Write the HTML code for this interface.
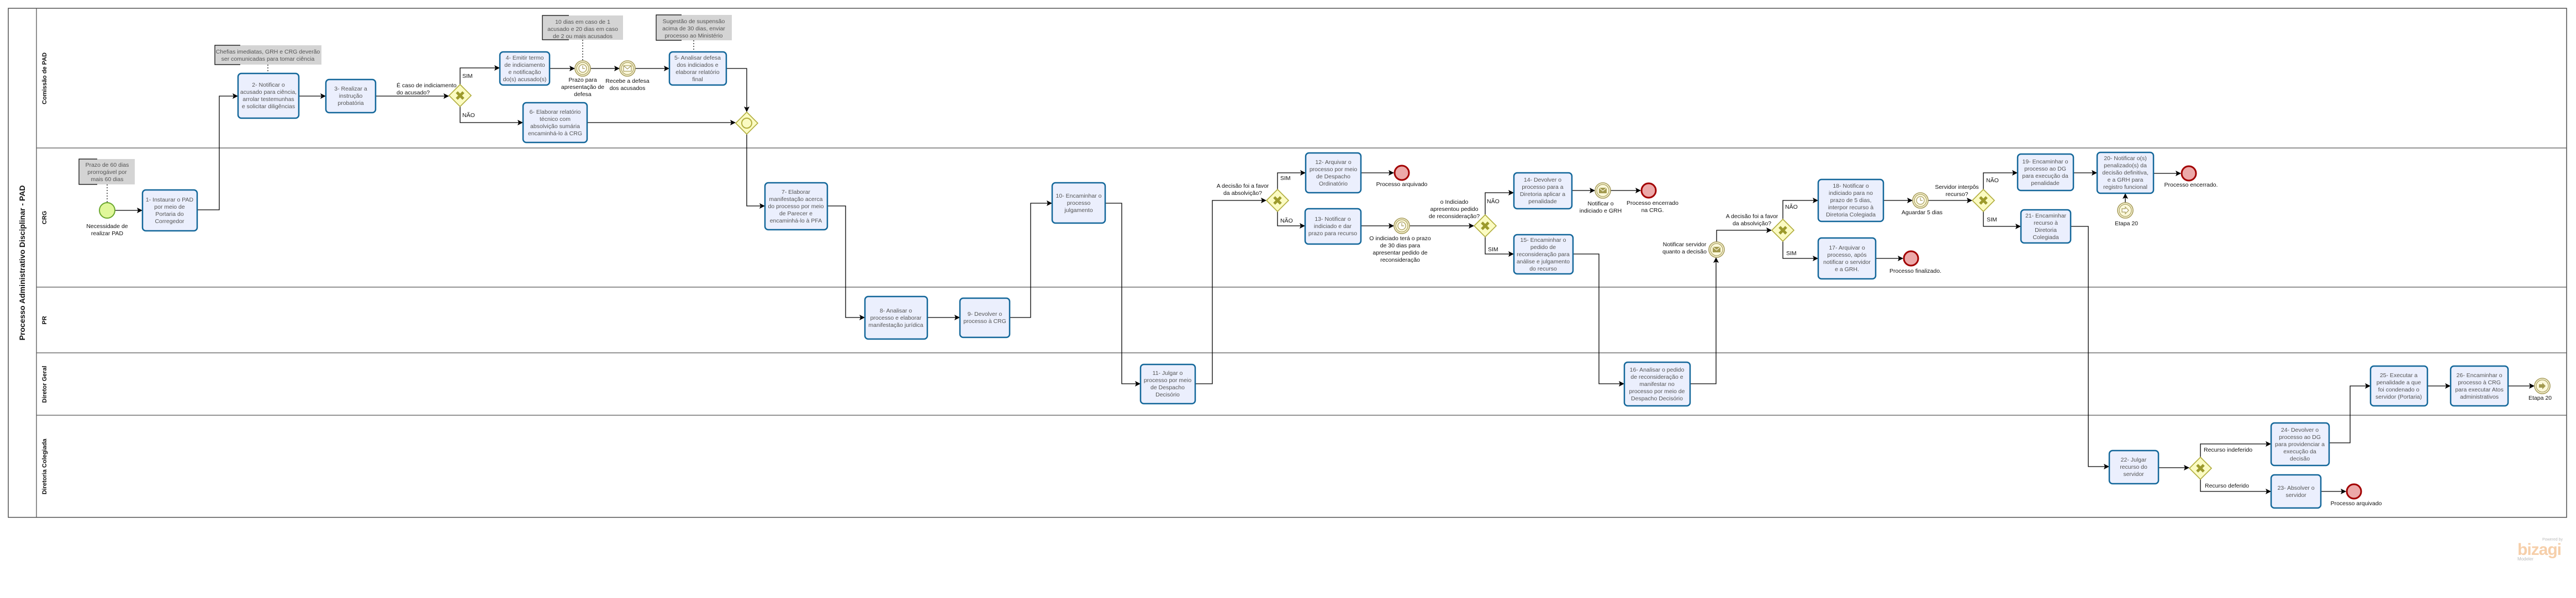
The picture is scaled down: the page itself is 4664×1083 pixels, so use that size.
<!DOCTYPE html>
<html><head><meta charset="utf-8"><style>
html,body{margin:0;padding:0;background:#fff;}
svg{display:block;}
.t{font-family:"Liberation Sans",sans-serif;font-size:10.5px;fill:#555;text-anchor:middle;}
.l{font-family:"Liberation Sans",sans-serif;font-size:10.5px;fill:#111;text-anchor:middle;}
.ll{font-family:"Liberation Sans",sans-serif;font-size:10.5px;fill:#111;}
.a{font-family:"Liberation Sans",sans-serif;font-size:10.5px;fill:#555;text-anchor:middle;}
.task{fill:#ebeffd;stroke:#13679a;stroke-width:2.5;}
.gw{fill:#fbfbc2;stroke:#b2ae3e;stroke-width:1.6;}
.gx{stroke:#9c9a2c;stroke-width:5;fill:none;stroke-linecap:butt;}
.ev{fill:#fbf8da;stroke:#a79c5c;stroke-width:1.6;}
.end{fill:#eca9a9;stroke:#a20000;stroke-width:3;}
.c{fill:none;stroke:#000;stroke-width:1.3;marker-end:url(#ar);}
.ann{fill:#d4d4d4;}
.dot{stroke:#000;stroke-width:1.2;stroke-dasharray:2,3;fill:none;}
.lane{stroke:#555;stroke-width:1.3;fill:none;}
.lab{font-family:"Liberation Sans",sans-serif;font-weight:bold;font-size:11px;fill:#111;text-anchor:middle;}
</style></head><body>
<svg width="4664" height="1083" viewBox="0 0 4664 1083" xmlns="http://www.w3.org/2000/svg">
<defs>
<marker id="ar" markerWidth="10" markerHeight="10" refX="9" refY="5" orient="auto" markerUnits="userSpaceOnUse">
<path d="M0,0 L10,5 L0,10 L2,5 z" fill="#000"/>
</marker>
</defs>
<rect width="4664" height="1083" fill="#fff"/>
<!-- pool -->
<rect x="15" y="15" width="4632" height="922" fill="none" stroke="#444" stroke-width="1.4"/>
<line x1="66" y1="15" x2="66" y2="937" class="lane"/>
<line x1="66" y1="268" x2="4647" y2="268" class="lane"/>
<line x1="66" y1="520" x2="4647" y2="520" class="lane"/>
<line x1="66" y1="639" x2="4647" y2="639" class="lane"/>
<line x1="66" y1="752" x2="4647" y2="752" class="lane"/>
<text transform="translate(45,476) rotate(-90)" class="lab" style="font-size:14px">Processo Administrativo Disciplinar - PAD</text>
<text transform="translate(84,142) rotate(-90)" class="lab">Comissão de PAD</text>
<text transform="translate(84,394) rotate(-90)" class="lab">CRG</text>
<text transform="translate(84,580) rotate(-90)" class="lab">PR</text>
<text transform="translate(84,696) rotate(-90)" class="lab">Diretor Geral</text>
<text transform="translate(84,845) rotate(-90)" class="lab">Diretoria Colegiada</text>

<!-- annotations -->
<rect class="ann" x="389" y="82" width="193" height="35"/><path d="M435,82 H389 V117 H435" fill="none" stroke="#000" stroke-width="1.2"/>
<text class="a" x="485" y="97">Chefias imediatas, GRH e CRG deverão<tspan x="485" dy="13">ser comunicadas para tomar ciência</tspan></text>
<line class="dot" x1="485" y1="117" x2="485" y2="133"/>
<rect class="ann" x="143" y="288" width="101" height="46"/><path d="M176,288 H143 V334 H176" fill="none" stroke="#000" stroke-width="1.2"/>
<text class="a" x="194" y="302">Prazo de 60 dias<tspan x="194" dy="13">prorrogável por</tspan><tspan x="194" dy="13">mais 60 dias</tspan></text>
<line class="dot" x1="194" y1="334" x2="194" y2="366"/>
<rect class="ann" x="982" y="28" width="146" height="44"/><path d="M1030,28 H982 V72 H1030" fill="none" stroke="#000" stroke-width="1.2"/>
<text class="a" x="1055" y="43">10 dias em caso de 1<tspan x="1055" dy="13">acusado e 20 dias em caso</tspan><tspan x="1055" dy="13">de 2 ou mais acusados</tspan></text>
<line class="dot" x1="1055" y1="72" x2="1055" y2="110"/>
<rect class="ann" x="1188" y="27" width="137" height="46"/><path d="M1234,27 H1188 V73 H1234" fill="none" stroke="#000" stroke-width="1.2"/>
<text class="a" x="1256" y="42">Sugestão de suspensão<tspan x="1256" dy="13">acima de 30 dias, enviar</tspan><tspan x="1256" dy="13">processo ao Ministério</tspan></text>
<line class="dot" x1="1256" y1="73" x2="1256" y2="94"/>

<!-- connectors -->
<path class="c" d="M208,381 H257"/>
<path class="c" d="M357,380 H397 V174 H430"/>
<path class="c" d="M541,174 H589"/>
<path class="c" d="M680,174 H812"/>
<path class="c" d="M833,153 V123 H904"/>
<path class="c" d="M995,124 H1040"/>
<path class="c" d="M1069,124 H1121"/>
<path class="c" d="M1150,124 H1211"/>
<path class="c" d="M1315,124 H1352 V202"/>
<path class="c" d="M833,193 V222 H946"/>
<path class="c" d="M1063,222 H1331"/>
<path class="c" d="M1352,243 V373 H1384"/>
<path class="c" d="M1498,373 H1531 V575 H1565"/>
<path class="c" d="M1679,575 H1737"/>
<path class="c" d="M1828,575 H1866 V368 H1904"/>
<path class="c" d="M2001,368 H2031 V695 H2064"/>
<path class="c" d="M2164,695 H2195 V363 H2292"/>
<path class="c" d="M2313,343 V313 H2363"/>
<path class="c" d="M2464,313 H2523"/>
<path class="c" d="M2313,383 V409 H2362"/>
<path class="c" d="M2464,409 H2523"/>
<path class="c" d="M2552,409 H2668"/>
<path class="c" d="M2689,389 V349 H2740"/>
<path class="c" d="M2689,429 V460 H2740"/>
<path class="c" d="M2846,345 H2887"/>
<path class="c" d="M2916,345 H2970"/>
<path class="c" d="M2848,460 H2895 V695 H2940"/>
<path class="c" d="M3060,695 H3107 V467"/>
<path class="c" d="M3108,438 V417 H3207"/>
<path class="c" d="M3228,397 V363 H3291"/>
<path class="c" d="M3410,363 H3462"/>
<path class="c" d="M3491,363 H3570"/>
<path class="c" d="M3228,437 V468 H3291"/>
<path class="c" d="M3396,468 H3445"/>
<path class="c" d="M3591,343 V313 H3652"/>
<path class="c" d="M3754,313 H3796"/>
<path class="c" d="M3899,314 H3948"/>
<path class="c" d="M3848,367 V351"/>
<path class="c" d="M3591,383 V410 H3658"/>
<path class="c" d="M3749,410 H3781 V845 H3818"/>
<path class="c" d="M3908,847 H3963"/>
<path class="c" d="M3984,828 V804 H4111"/>
<path class="c" d="M3984,868 V890 H4111"/>
<path class="c" d="M4202,890 H4247"/>
<path class="c" d="M4217,802 H4255 V699 H4291"/>
<path class="c" d="M4395,699 H4436"/>
<path class="c" d="M4541,699 H4588"/>

<!-- tasks -->
<rect class="task" x="258" y="344" width="99" height="74" rx="6"/>
<text class="t" x="307" y="365">1- Instaurar o PAD<tspan x="307" dy="13">por meio de</tspan><tspan x="307" dy="13">Portaria do</tspan><tspan x="307" dy="13">Corregedor</tspan></text>
<rect class="task" x="431" y="133" width="110" height="81" rx="6"/>
<text class="t" x="486" y="157">2- Notificar o<tspan x="486" dy="13">acusado para ciência,</tspan><tspan x="486" dy="13">arrolar testemunhas</tspan><tspan x="486" dy="13">e solicitar diligências</tspan></text>
<rect class="task" x="590" y="144" width="90" height="60" rx="6"/>
<text class="t" x="635" y="164">3- Realizar a<tspan x="635" dy="13">instrução</tspan><tspan x="635" dy="13">probatória</tspan></text>
<rect class="task" x="905" y="94" width="90" height="60" rx="6"/>
<text class="t" x="950" y="108">4- Emitir termo<tspan x="950" dy="13">de indiciamento</tspan><tspan x="950" dy="13">e notificação</tspan><tspan x="950" dy="13">do(s) acusado(s)</tspan></text>
<rect class="task" x="1212" y="94" width="103" height="60" rx="6"/>
<text class="t" x="1263" y="108">5- Analisar defesa<tspan x="1263" dy="13">dos indiciados e</tspan><tspan x="1263" dy="13">elaborar relatório</tspan><tspan x="1263" dy="13">final</tspan></text>
<rect class="task" x="947" y="186" width="116" height="72" rx="6"/>
<text class="t" x="1005" y="206">6- Elaborar relatório<tspan x="1005" dy="13">técnico com</tspan><tspan x="1005" dy="13">absolvição sumária</tspan><tspan x="1005" dy="13">encaminhá-lo à CRG</tspan></text>
<rect class="task" x="1385" y="331" width="113" height="85" rx="6"/>
<text class="t" x="1441" y="351">7- Elaborar<tspan x="1441" dy="13">manifestação acerca</tspan><tspan x="1441" dy="13">do processo por meio</tspan><tspan x="1441" dy="13">de Parecer e</tspan><tspan x="1441" dy="13">encaminhá-lo à PFA</tspan></text>
<rect class="task" x="1566" y="537" width="113" height="77" rx="6"/>
<text class="t" x="1622" y="566">8- Analisar o<tspan x="1622" dy="13">processo e elaborar</tspan><tspan x="1622" dy="13">manifestação jurídica</tspan></text>
<rect class="task" x="1738" y="540" width="90" height="71" rx="6"/>
<text class="t" x="1783" y="572">9- Devolver o<tspan x="1783" dy="13">processo à CRG</tspan></text>
<rect class="task" x="1905" y="331" width="96" height="73" rx="6"/>
<text class="t" x="1953" y="358">10- Encaminhar o<tspan x="1953" dy="13">processo</tspan><tspan x="1953" dy="13">julgamento</tspan></text>
<rect class="task" x="2065" y="660" width="99" height="71" rx="6"/>
<text class="t" x="2114" y="679">11- Julgar o<tspan x="2114" dy="13">processo por meio</tspan><tspan x="2114" dy="13">de Despacho</tspan><tspan x="2114" dy="13">Decisório</tspan></text>
<rect class="task" x="2364" y="277" width="100" height="72" rx="6"/>
<text class="t" x="2414" y="297">12- Arquivar o<tspan x="2414" dy="13">processo por meio</tspan><tspan x="2414" dy="13">de Despacho</tspan><tspan x="2414" dy="13">Ordinatório</tspan></text>
<rect class="task" x="2363" y="378" width="101" height="64" rx="6"/>
<text class="t" x="2413" y="400">13- Notificar o<tspan x="2413" dy="13">indiciado e dar</tspan><tspan x="2413" dy="13">prazo para recurso</tspan></text>
<rect class="task" x="2741" y="313" width="105" height="65" rx="6"/>
<text class="t" x="2793" y="329">14- Devolver o<tspan x="2793" dy="13">processo para a</tspan><tspan x="2793" dy="13">Diretoria aplicar a</tspan><tspan x="2793" dy="13">penalidade</tspan></text>
<rect class="task" x="2741" y="425" width="107" height="71" rx="6"/>
<text class="t" x="2794" y="438">15- Encaminhar o<tspan x="2794" dy="13">pedido de</tspan><tspan x="2794" dy="13">reconsideração para</tspan><tspan x="2794" dy="13">análise e julgamento</tspan><tspan x="2794" dy="13">do recurso</tspan></text>
<rect class="task" x="2941" y="656" width="119" height="79" rx="6"/>
<text class="t" x="3000" y="673">16- Analisar o pedido<tspan x="3000" dy="13">de reconsideração e</tspan><tspan x="3000" dy="13">manifestar no</tspan><tspan x="3000" dy="13">processo por meio de</tspan><tspan x="3000" dy="13">Despacho Decisório</tspan></text>
<rect class="task" x="3292" y="431" width="104" height="74" rx="6"/>
<text class="t" x="3344" y="452">17- Arquivar o<tspan x="3344" dy="13">processo, após</tspan><tspan x="3344" dy="13">notificar o servidor</tspan><tspan x="3344" dy="13">e a GRH.</tspan></text>
<rect class="task" x="3292" y="325" width="118" height="76" rx="6"/>
<text class="t" x="3351" y="340">18- Notificar o<tspan x="3351" dy="13">indiciado para no</tspan><tspan x="3351" dy="13">prazo de 5 dias,</tspan><tspan x="3351" dy="13">interpor recurso à</tspan><tspan x="3351" dy="13">Diretoria Colegiada</tspan></text>
<rect class="task" x="3653" y="279" width="101" height="66" rx="6"/>
<text class="t" x="3703" y="296">19- Encaminhar o<tspan x="3703" dy="13">processo ao DG</tspan><tspan x="3703" dy="13">para execução da</tspan><tspan x="3703" dy="13">penalidade</tspan></text>
<rect class="task" x="3797" y="276" width="102" height="74" rx="6"/>
<text class="t" x="3848" y="290">20- Notificar o(s)<tspan x="3848" dy="13">penalizado(s) da</tspan><tspan x="3848" dy="13">decisão definitiva,</tspan><tspan x="3848" dy="13">e a GRH para</tspan><tspan x="3848" dy="13">registro funcional</tspan></text>
<rect class="task" x="3659" y="380" width="90" height="60" rx="6"/>
<text class="t" x="3704" y="394">21- Encaminhar<tspan x="3704" dy="13">recurso à</tspan><tspan x="3704" dy="13">Diretoria</tspan><tspan x="3704" dy="13">Colegiada</tspan></text>
<rect class="task" x="3819" y="816" width="89" height="60" rx="6"/>
<text class="t" x="3863" y="836">22- Julgar<tspan x="3863" dy="13">recurso do</tspan><tspan x="3863" dy="13">servidor</tspan></text>
<rect class="task" x="4112" y="860" width="90" height="60" rx="6"/>
<text class="t" x="4157" y="887">23- Absolver o<tspan x="4157" dy="13">servidor</tspan></text>
<rect class="task" x="4112" y="766" width="105" height="77" rx="6"/>
<text class="t" x="4164" y="782">24- Devolver o<tspan x="4164" dy="13">processo ao DG</tspan><tspan x="4164" dy="13">para providenciar a</tspan><tspan x="4164" dy="13">execução da</tspan><tspan x="4164" dy="13">decisão</tspan></text>
<rect class="task" x="4292" y="663" width="103" height="72" rx="6"/>
<text class="t" x="4343" y="683">25- Executar a<tspan x="4343" dy="13">penalidade a que</tspan><tspan x="4343" dy="13">foi condenado o</tspan><tspan x="4343" dy="13">servidor (Portaria)</tspan></text>
<rect class="task" x="4437" y="663" width="104" height="72" rx="6"/>
<text class="t" x="4489" y="683">26- Encaminhar o<tspan x="4489" dy="13">processo à CRG</tspan><tspan x="4489" dy="13">para executar Atos</tspan><tspan x="4489" dy="13">administrativos</tspan></text>

<!-- gateways -->
<g><polygon class="gw" points="833,153 853,173 833,193 813,173"/><path class="gx" d="M827,167 L839,179 M839,167 L827,179"/></g>
<g><polygon class="gw" points="1352,203 1372,223 1352,243 1332,223"/><circle cx="1352" cy="223" r="9" fill="none" stroke="#b2ae3e" stroke-width="2"/></g>
<g><polygon class="gw" points="2313,343 2333,363 2313,383 2293,363"/><path class="gx" d="M2307,357 L2319,369 M2319,357 L2307,369"/></g>
<g><polygon class="gw" points="2689,389 2709,409 2689,429 2669,409"/><path class="gx" d="M2683,403 L2695,415 M2695,403 L2683,415"/></g>
<g><polygon class="gw" points="3228,397 3248,417 3228,437 3208,417"/><path class="gx" d="M3222,411 L3234,423 M3234,411 L3222,423"/></g>
<g><polygon class="gw" points="3591,343 3611,363 3591,383 3571,363"/><path class="gx" d="M3585,357 L3597,369 M3597,357 L3585,369"/></g>
<g><polygon class="gw" points="3984,828 4004,848 3984,868 3964,848"/><path class="gx" d="M3978,842 L3990,854 M3990,842 L3978,854"/></g>

<!-- gateway labels -->
<text class="ll" x="718" y="158">É caso de indiciamento<tspan x="718" dy="13">do acusado?</tspan></text>
<text class="ll" x="837" y="141">SIM</text><text class="ll" x="837" y="212">NÃO</text>
<text class="l" x="2250" y="340">A decisão foi a favor<tspan x="2250" dy="13">da absolvição?</tspan></text>
<text class="ll" x="2318" y="326">SIM</text><text class="ll" x="2318" y="403">NÃO</text>
<text class="l" x="2633" y="369">o Indiciado<tspan x="2633" dy="13">apresentou pedido</tspan><tspan x="2633" dy="13">de reconsideração?</tspan></text>
<text class="ll" x="2692" y="368">NÃO</text><text class="ll" x="2694" y="455">SIM</text>
<text class="l" x="3172" y="395">A decisão foi a favor<tspan x="3172" dy="13">da absolvição?</tspan></text>
<text class="ll" x="3232" y="378">NÃO</text><text class="ll" x="3234" y="462">SIM</text>
<text class="l" x="3543" y="342">Servidor interpôs<tspan x="3543" dy="13">recurso?</tspan></text>
<text class="ll" x="3596" y="330">NÃO</text><text class="ll" x="3597" y="401">SIM</text>
<text class="ll" x="3990" y="818">Recurso indeferido</text>
<text class="ll" x="3992" y="883">Recurso deferido</text>

<!-- events -->
<circle cx="194" cy="381" r="14" fill="#e0f79a" stroke="#6ba82e" stroke-width="2"/>
<text class="l" x="194" y="413">Necessidade de<tspan x="194" dy="13">realizar PAD</tspan></text>

<g><circle class="ev" cx="1055" cy="124" r="14"/><circle cx="1055" cy="124" r="11" fill="none" stroke="#a79c5c" stroke-width="1.2"/><circle cx="1055" cy="124" r="7" fill="#fff" stroke="#a79c5c" stroke-width="1.2"/><path d="M1055,119 V124 H1059" stroke="#a79c5c" fill="none" stroke-width="1.2"/></g>
<text class="l" x="1055" y="148">Prazo para<tspan x="1055" dy="13">apresentação de</tspan><tspan x="1055" dy="13">defesa</tspan></text>
<g><circle class="ev" cx="1136" cy="124" r="14"/><circle cx="1136" cy="124" r="11" fill="none" stroke="#a79c5c" stroke-width="1.2"/><rect x="1129" y="119" width="14" height="10" fill="#fff" stroke="#a79c5c" stroke-width="1.2"/><path d="M1129,119 L1136,125 L1143,119" fill="none" stroke="#a79c5c" stroke-width="1.2"/></g>
<text class="l" x="1136" y="150">Recebe a defesa<tspan x="1136" dy="13">dos acusados</tspan></text>

<circle class="end" cx="2538" cy="313" r="13"/>
<text class="l" x="2538" y="337">Processo arquivado</text>
<g><circle class="ev" cx="2538" cy="409" r="14"/><circle cx="2538" cy="409" r="11" fill="none" stroke="#a79c5c" stroke-width="1.2"/><circle cx="2538" cy="409" r="7" fill="#fff" stroke="#a79c5c" stroke-width="1.2"/><path d="M2538,404 V409 H2542" stroke="#a79c5c" fill="none" stroke-width="1.2"/></g>
<text class="l" x="2535" y="435">O indiciado terá o prazo<tspan x="2535" dy="13">de 30 dias para</tspan><tspan x="2535" dy="13">apresentar pedido de</tspan><tspan x="2535" dy="13">reconsideração</tspan></text>

<g><circle class="ev" cx="2902" cy="345" r="14"/><circle cx="2902" cy="345" r="11" fill="none" stroke="#a79c5c" stroke-width="1.2"/><rect x="2895" y="340" width="14" height="10" fill="#a39a50"/><path d="M2895,340 L2902,346 L2909,340" fill="none" stroke="#fbf8da" stroke-width="1.2"/></g>
<text class="l" x="2898" y="372">Notificar o<tspan x="2898" dy="13">indiciado e GRH</tspan></text>
<circle class="end" cx="2985" cy="345" r="13"/>
<text class="l" x="2992" y="371">Processo encerrado<tspan x="2992" dy="13">na CRG.</tspan></text>

<g><circle class="ev" cx="3108" cy="452" r="14"/><circle cx="3108" cy="452" r="11" fill="none" stroke="#a79c5c" stroke-width="1.2"/><rect x="3101" y="447" width="14" height="10" fill="#a39a50"/><path d="M3101,447 L3108,453 L3115,447" fill="none" stroke="#fbf8da" stroke-width="1.2"/></g>
<text class="l" x="3050" y="446">Notificar servidor<tspan x="3050" dy="13">quanto a decisão</tspan></text>

<g><circle class="ev" cx="3477" cy="363" r="14"/><circle cx="3477" cy="363" r="11" fill="none" stroke="#a79c5c" stroke-width="1.2"/><circle cx="3477" cy="363" r="7" fill="#fff" stroke="#a79c5c" stroke-width="1.2"/><path d="M3477,358 V363 H3481" stroke="#a79c5c" fill="none" stroke-width="1.2"/></g>
<text class="l" x="3480" y="388">Aguardar 5 dias</text>
<circle class="end" cx="3460" cy="468" r="13"/>
<text class="l" x="3468" y="494">Processo finalizado.</text>

<circle class="end" cx="3963" cy="314" r="13"/>
<text class="l" x="3967" y="338">Processo encerrado.</text>
<g><circle class="ev" cx="3848" cy="381" r="14"/><circle cx="3848" cy="381" r="11" fill="none" stroke="#a79c5c" stroke-width="1.2"/><path d="M3842,378 H3848 V375 L3854,381 L3848,387 V384 H3842 z" fill="#fff" stroke="#a79c5c" stroke-width="1.2"/></g>
<text class="l" x="3850" y="408">Etapa 20</text>

<circle class="end" cx="4262" cy="890" r="13"/>
<text class="l" x="4266" y="915">Processo arquivado</text>
<g><circle class="ev" cx="4603" cy="699" r="14"/><circle cx="4603" cy="699" r="11" fill="none" stroke="#a79c5c" stroke-width="1.2"/><path d="M4597,696 H4603 V693 L4609,699 L4603,705 V702 H4597 z" fill="#a39a50"/></g>
<text class="l" x="4599" y="724">Etapa 20</text>

<!-- logo -->
<text x="4640" y="979" style="font-family:'Liberation Sans',sans-serif;font-size:7px;fill:#bbb;text-anchor:end">Powered by</text>
<text x="4558" y="1005" style="font-family:'Liberation Sans',sans-serif;font-size:30px;font-weight:bold;fill:#f6cfaa;letter-spacing:-1px">bizagi</text>
<text x="4558" y="1015" style="font-family:'Liberation Sans',sans-serif;font-size:8px;fill:#bbb">Modeler</text>
</svg>
</body></html>
